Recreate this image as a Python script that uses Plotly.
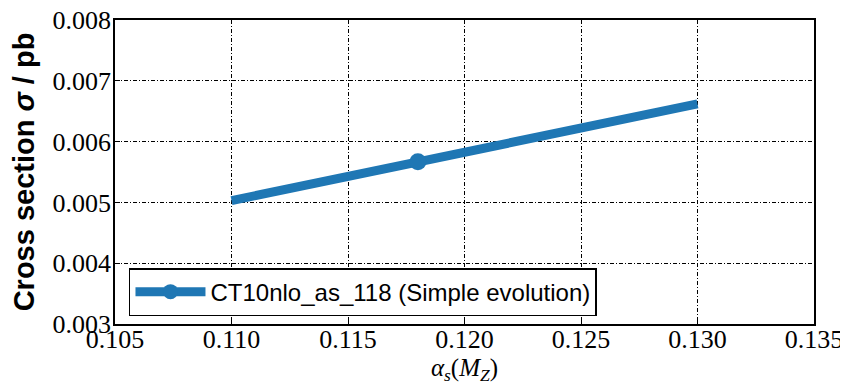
import plotly.graph_objects as go

# data
alpha_s = [0.110, 0.118, 0.130]
xsec = [0.00503, 0.00567, 0.00662]
central_alpha = [0.118]
central_xsec = [0.00567]
series_name = "CT10nlo_as_118 (Simple evolution)"
x_ticks = [0.105, 0.110, 0.115, 0.120, 0.125, 0.130, 0.135]
y_ticks = [0.003, 0.004, 0.005, 0.006, 0.007, 0.008]
x_ticktext = ["0.105", "0.110", "0.115", "0.120", "0.125", "0.130", "0.135"]
y_ticktext = ["0.003", "0.004", "0.005", "0.006", "0.007", "0.008"]

blue = "#1f77b4"
serif = "Liberation Serif"

fig = go.Figure()
fig.add_trace(go.Scatter(x=alpha_s, y=xsec, mode="lines",
                         line=dict(color=blue, width=9), showlegend=False))
fig.add_trace(go.Scatter(x=central_alpha, y=central_xsec, mode="markers",
                         marker=dict(color=blue, size=17), showlegend=False))
fig.add_trace(go.Scatter(x=[None], y=[None], mode="lines+markers", name=series_name,
                         line=dict(color=blue, width=9),
                         marker=dict(color=blue, size=15)))

axis_common = dict(
    showline=True, linecolor="black", linewidth=1.5, mirror=True,
    ticks="inside", ticklen=5, tickcolor="black",
    showgrid=True, gridcolor="black", gridwidth=1, griddash="4px,2px,1px,2px",
    zeroline=False, automargin=False,
    ticklabeloverflow="allow",
    tickfont=dict(family=serif, size=26, color="black"),
)

# the page body adds an 8px offset, so the figure is sized to fill the rest
fig.update_layout(
    width=840, height=381,
    margin=dict(l=107, r=34, t=12, b=65),
    font=dict(family=serif, color="black"),
    paper_bgcolor="white", plot_bgcolor="white",
    xaxis=dict(range=[0.105, 0.135], tickvals=x_ticks, ticktext=x_ticktext,
               ticklabelstandoff=-9,
               title=dict(text="<i>α<sub>s</sub></i>(<i>M<sub>Z</sub></i>)",
                          font=dict(family=serif, size=25, color="black"),
                          standoff=2),
               **axis_common),
    yaxis=dict(range=[0.003, 0.008], tickvals=y_ticks, ticktext=y_ticktext,
               ticklabelstandoff=-3,
               title=dict(text="<b>Cross section <i>σ</i> / pb</b>",
                          font=dict(family="Liberation Sans", size=29, color="black"),
                          standoff=14),
               **axis_common),
    legend=dict(x=0.02, y=0.184, xanchor="left", yanchor="top",
                bordercolor="black", borderwidth=1.5, bgcolor="white",
                font=dict(family="Liberation Sans", size=24, color="black"),
                itemwidth=70),
)

fig.write_html("out.html")
